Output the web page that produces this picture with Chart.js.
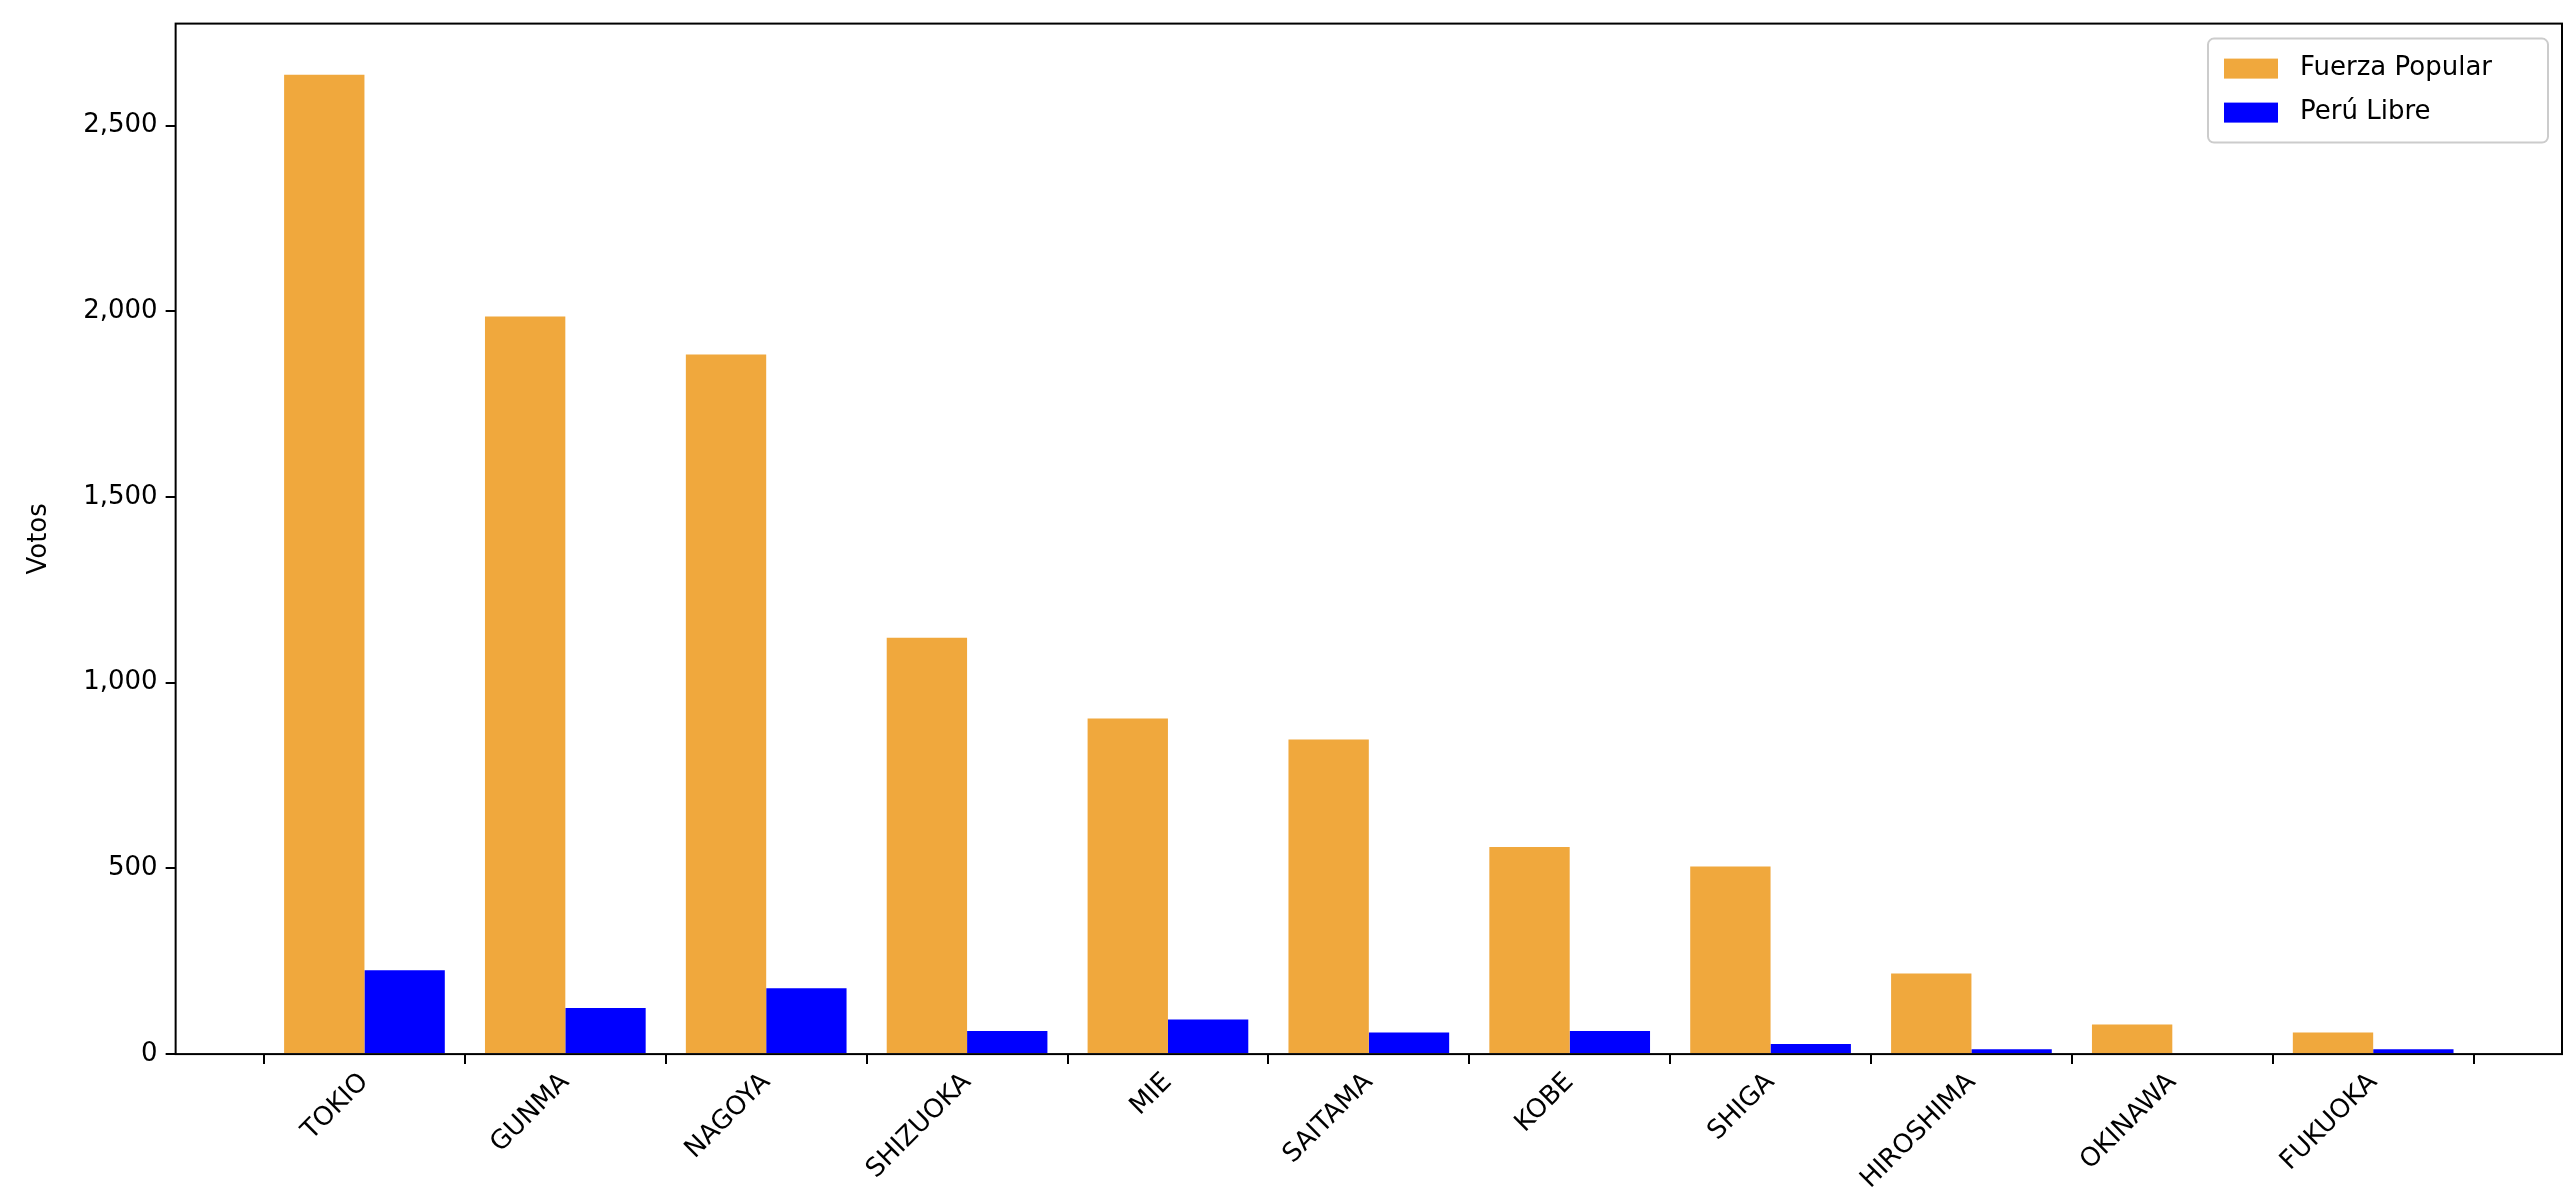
<!DOCTYPE html>
<html>
<head>
<meta charset="utf-8">
<script src="https://cdn.jsdelivr.net/npm/chart.js@4"></script>
<style>
  html, body { margin: 0; padding: 0; background: #fff; }
  #wrap { width: 2570px; height: 1198px; }
</style>
</head>
<body>
<div id="wrap"><canvas id="chart"></canvas></div>
<script>
// Datos
const categories = ['TOKIO', 'GUNMA', 'NAGOYA', 'SHIZUOKA', 'MIE', 'SAITAMA', 'KOBE', 'SHIGA', 'HIROSHIMA', 'OKINAWA', 'FUKUOKA'];
const fuerzaPopular = [2637, 1986, 1884, 1121, 904, 847, 558, 505, 217, 80, 58];
const peruLibre = [226, 124, 177, 62, 93, 58, 62, 27, 13, 0, 13];
const yTicks = [0, 500, 1000, 1500, 2000, 2500];

const FONT = 'DejaVu Sans';

// Marco del área de trazado
const framePlugin = {
    id: 'frame',
    afterDatasetsDraw(chart) {
        const { ctx, chartArea: a } = chart;
        ctx.save();
        ctx.strokeStyle = '#000';
        ctx.lineWidth = 2;
        ctx.strokeRect(a.left, a.top, a.right - a.left, a.bottom - a.top);
        ctx.restore();
    }
};

// Leyenda dentro del gráfico (arriba a la derecha)
const legendPlugin = {
    id: 'insideLegend',
    afterDraw(chart) {
        const { ctx, chartArea: a } = chart;
        const w = 340, h = 104;
        const x = a.right - w - 14, y = a.top + 15;
        ctx.save();
        ctx.fillStyle = 'rgba(255,255,255,0.85)';
        ctx.strokeStyle = '#ccc';
        ctx.lineWidth = 2;
        ctx.beginPath();
        ctx.roundRect(x, y, w, h, 6);
        ctx.fill();
        ctx.stroke();
        ctx.font = '26px ' + FONT;
        ctx.textBaseline = 'middle';
        chart.data.datasets.forEach((ds, i) => {
            const cy = y + 30 + i * 44;
            ctx.fillStyle = ds.backgroundColor;
            ctx.fillRect(x + 16, cy - 10, 54, 20);
            ctx.fillStyle = '#000';
            ctx.fillText(ds.label, x + 92, cy);
        });
        ctx.restore();
    }
};

new Chart(document.getElementById('chart'), {
    type: 'bar',
    data: {
        datasets: [
            {
                label: 'Fuerza Popular',
                data: fuerzaPopular.map((v, i) => ({ x: i, y: v })),
                backgroundColor: '#F0A83D',
                barPercentage: 1,
                categoryPercentage: 0.8
            },
            {
                label: 'Perú Libre',
                data: peruLibre.map((v, i) => ({ x: i, y: v })),
                backgroundColor: '#0000FF',
                barPercentage: 1,
                categoryPercentage: 0.8
            }
        ]
    },
    options: {
        responsive: true,
        maintainAspectRatio: false,
        animation: false,
        layout: { padding: { left: 20, right: 8, top: 13, bottom: 0 } },
        plugins: {
            legend: { display: false },
            tooltip: { enabled: false }
        },
        scales: {
            x: {
                type: 'linear',
                min: -0.94,
                max: 10.94,
                offset: false,
                afterBuildTicks: function(axis) {
                    axis.ticks = categories.map((c, i) => ({ value: i }));
                },
                ticks: {
                    autoSkip: false,
                    maxRotation: 45,
                    minRotation: 45,
                    color: '#000',
                    font: { family: FONT, size: 26 },
                    callback: function(value) {
                        return categories[value];
                    }
                },
                grid: { drawOnChartArea: false, tickLength: 10, color: '#000', lineWidth: 2 },
                border: { display: false }
            },
            y: {
                min: 0,
                max: 2775,
                afterBuildTicks: function(axis) {
                    axis.ticks = yTicks.map(v => ({ value: v }));
                },
                ticks: {
                    color: '#000',
                    font: { family: FONT, size: 26 },
                    padding: 8
                },
                title: {
                    display: true,
                    text: 'Votos',
                    color: '#000',
                    font: { family: FONT, size: 26 },
                    padding: { bottom: 20 }
                },
                grid: { drawOnChartArea: false, tickLength: 10, color: '#000', lineWidth: 2 },
                border: { display: false }
            }
        }
    },
    plugins: [framePlugin, legendPlugin]
});
</script>
</body>
</html>
